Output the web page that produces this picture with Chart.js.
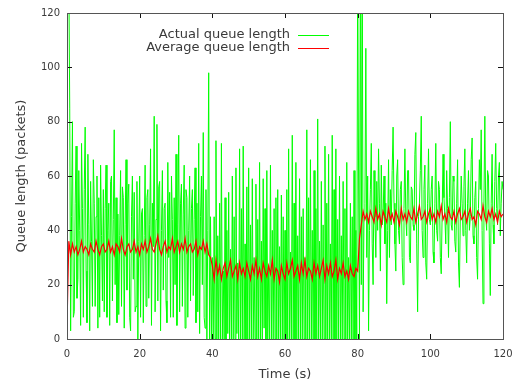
<!DOCTYPE html>
<html>
<head>
<meta charset="utf-8">
<script src="https://cdn.jsdelivr.net/npm/chart.js@4.4.0/dist/chart.umd.min.js"></script>
<style>
  html, body { margin: 0; padding: 0; background: #fff; }
  canvas { display: block; }
</style>
</head>
<body>
<canvas id="chart" width="525" height="383"></canvas>
<script>
// sample intervals of the two traces (s)
const ACTUAL_STEP = 0.25;
const AVERAGE_STEP = 0.5;

// actual queue length, one value every 0.25 s from t = 0 (one row = 10 s)
const actualQueue = [
  130, 140, 135, 85, 3, 45, 80, 8, 10, 50, 71, 15, 22, 62, 40, 5, 72, 48, 8, 55, 78, 25, 6, 68, 42, 3, 58, 36, 12, 66, 50, 12, 45, 60, 4, 52, 8, 64, 38, 14,
  55, 10, 48, 64, 8, 40, 50, 5, 58, 60, 14, 44, 77, 20, 52, 6, 46, 9, 38, 62, 12, 56, 52, 4, 42, 66, 18, 50, 57, 8, 3, 45, 60, 22, 54, 10, 12, 58, 0, 36,
  60, 8, 46, 48, 6, 38, 64, 12, 52, 55, 15, 42, 70, 5, 50, 34, 82, 10, 44, 79, 14, 56, 58, 3, 40, 62, 18, 48, 50, 14, 6, 65, 30, 54, 8, 60, 44, 8, 52, 20,
  68, 5, 42, 75, 10, 50, 57, 12, 46, 64, 4, 55, 52, 8, 40, 60, 14, 48, 55, 16, 44, 63, 6, 50, 10, 72, 2, 45, 60, 20, 76, 8, 4, 55, 0, 40, 98, 0, 45, 0,
  30, 0, 45, 0, 73, 0, 38, 0, 50, 0, 72, 0, 25, 0, 52, 0, 40, 2, 54, 0, 33, 0, 60, 0, 45, 0, 63, 2, 28, 0, 70, 0, 48, 0, 71, 0, 35, 0, 56, 0,
  63, 0, 42, 0, 59, 0, 30, 0, 57, 0, 44, 0, 65, 0, 36, 0, 59, 4, 48, 0, 62, 0, 26, 0, 64, 0, 40, 0, 48, 0, 52, 0, 55, 0, 34, 0, 53, 0, 45, 0,
  40, 0, 55, 0, 70, 0, 32, 0, 75, 0, 50, 0, 65, 0, 38, 0, 59, 0, 45, 0, 48, 0, 30, 0, 77, 0, 52, 0, 66, 0, 40, 0, 62, 0, 48, 0, 81, 0, 36, 0,
  58, 0, 42, 0, 71, 0, 50, 0, 68, 0, 35, 0, 75, 0, 55, 0, 70, 0, 44, 0, 60, 0, 38, 0, 58, 0, 48, 0, 65, 0, 30, 0, 50, 0, 45, 0, 62, 0, 40, 0,
  140, 60, 0, 150, 20, 150, 10, 45, 50, 107, 30, 60, 3, 40, 55, 72, 35, 20, 62, 45, 30, 58, 40, 70, 50, 25, 64, 42, 45, 60, 35, 50, 13, 40, 66, 30, 55, 42, 62, 78,
  50, 35, 25, 60, 66, 40, 35, 55, 58, 30, 20, 48, 70, 45, 38, 62, 62, 30, 28, 56, 55, 42, 40, 68, 76, 35, 10, 45, 50, 62, 82, 40, 30, 55, 64, 28, 22, 50, 70, 44,
  42, 55, 60, 32, 28, 50, 72, 40, 36, 58, 55, 30, 24, 46, 68, 52, 45, 35, 62, 48, 30, 52, 80, 42, 40, 60, 58, 36, 32, 50, 66, 28, 19, 45, 60, 50, 38, 56, 70, 40,
  28, 50, 62, 40, 45, 66, 74, 38, 35, 52, 58, 30, 22, 48, 66, 55, 77, 40, 13, 50, 82, 45, 40, 62, 60, 35, 16, 50, 68, 42, 35, 58, 72, 48, 42, 60, 65, 38, 50, 58,
  55
];

// average queue length, one value every 0.5 s from t = 0 (one row = 10 s)
const averageQueue = [
  5, 36, 31, 35, 32, 34, 31, 33, 36, 32, 34, 33, 31, 35, 33, 32, 36, 33, 31, 34,
  35, 32, 33, 36, 32, 34, 31, 35, 34, 32, 37, 33, 31, 34, 35, 32, 33, 36, 32, 34,
  31, 35, 33, 36, 32, 34, 37, 33, 32, 35, 38, 33, 31, 34, 36, 32, 34, 33, 37, 32,
  34, 36, 32, 35, 33, 37, 32, 34, 35, 32, 33, 36, 31, 34, 33, 36, 32, 35, 31, 30,
  27, 22, 29, 24, 27, 22, 26, 28, 23, 26, 29, 23, 25, 27, 22, 28, 24, 26, 23, 28,
  25, 22, 27, 24, 29, 23, 26, 22, 28, 25, 23, 27, 24, 29, 22, 26, 25, 21, 27, 24,
  22, 28, 24, 26, 29, 23, 25, 27, 22, 28, 24, 29, 23, 26, 25, 22, 28, 24, 27, 23,
  26, 29, 22, 27, 24, 28, 23, 25, 29, 22, 26, 24, 28, 23, 25, 22, 27, 24, 23, 26,
  25, 37, 42, 47, 44, 46, 43, 47, 45, 43, 48, 44, 46, 42, 47, 45, 43, 48, 44, 46,
  43, 47, 45, 42, 48, 44, 46, 43, 47, 45, 44, 48, 43, 46, 49, 44, 45, 47, 43, 46,
  48, 44, 46, 43, 47, 45, 49, 44, 46, 43, 48, 45, 44, 47, 43, 46, 48, 44, 45, 47,
  43, 46, 48, 44, 45, 42, 47, 46, 44, 49, 45, 43, 47, 45, 48, 44, 46, 43, 47, 45,
  46
];

const xTicks = [0, 20, 40, 60, 80, 100, 120];
const yTicks = [0, 20, 40, 60, 80, 100, 120];

const actualPoints = actualQueue.map((v, i) => ({ x: i * ACTUAL_STEP, y: v }));
const averagePoints = averageQueue.map((v, i) => ({ x: i * AVERAGE_STEP, y: v }));

const FONT = "'DejaVu Sans', sans-serif";
const TEXT = "#3a3a3a";

// gnuplot style frame: border + inward ticks on all four sides, key inside
const framePlugin = {
  id: "frame",
  afterDatasetsDraw(chart) {
    const { ctx, chartArea: a, scales } = chart;
    ctx.save();
    ctx.strokeStyle = "#111";
    ctx.lineWidth = 1;
    const len = 5;
    ctx.beginPath();
    xTicks.forEach((v) => {
      const px = Math.round(scales.x.getPixelForValue(v)) + 0.5;
      ctx.moveTo(px, a.bottom); ctx.lineTo(px, a.bottom - len);
      ctx.moveTo(px, a.top); ctx.lineTo(px, a.top + len);
    });
    yTicks.forEach((v) => {
      const py = Math.round(scales.y.getPixelForValue(v)) + 0.5;
      ctx.moveTo(a.left, py); ctx.lineTo(a.left + len, py);
      ctx.moveTo(a.right, py); ctx.lineTo(a.right - len, py);
    });
    ctx.stroke();
    ctx.strokeStyle = "#555";
    ctx.strokeRect(Math.round(a.left) + 0.5, Math.round(a.top) + 0.5,
      Math.round(a.right - a.left), Math.round(a.bottom - a.top));
    ctx.restore();
  },
  afterDraw(chart) {
    const { ctx, chartArea: a } = chart;
    const order = [1, 0];
    ctx.save();
    ctx.font = "13px " + FONT;
    ctx.textAlign = "right";
    ctx.textBaseline = "middle";
    order.forEach((di, row) => {
      const ds = chart.data.datasets[di];
      const y = a.top + 22 + row * 12.7;
      ctx.fillStyle = TEXT;
      ctx.fillText(ds.label, a.left + 223, y);
      ctx.strokeStyle = ds.borderColor;
      ctx.lineWidth = 1;
      ctx.beginPath();
      ctx.moveTo(a.left + 231, Math.round(y) + 0.5);
      ctx.lineTo(a.left + 262, Math.round(y) + 0.5);
      ctx.stroke();
    });
    ctx.restore();
  }
};

const chart = new Chart(document.getElementById("chart"), {
  type: "line",
  data: {
    datasets: [
      {
        label: "Average queue length",
        data: averagePoints,
        borderColor: "#ff0000",
        borderWidth: 1.2,
        pointRadius: 0,
        tension: 0,
        fill: false,
        order: 0,
      },
      {
        label: "Actual queue length",
        data: actualPoints,
        borderColor: "#00ff00",
        borderWidth: 1,
        pointRadius: 0,
        tension: 0,
        fill: false,
        order: 1,
      },
    ],
  },
  options: {
    responsive: false,
    devicePixelRatio: 1,
    animation: false,
    layout: { padding: { top: 12, right: 22, left: 0, bottom: 0 } },
    plugins: {
      legend: { display: false },
      tooltip: { enabled: false },
    },
    scales: {
      x: {
        type: "linear",
        min: 0,
        max: 120,
        afterFit: (s) => { s.height = 44; },
        afterBuildTicks: (s) => { s.ticks = xTicks.map((v) => ({ value: v })); },
        ticks: { color: TEXT, font: { family: FONT, size: 10 }, padding: 9, maxRotation: 0 },
        grid: { display: false, drawTicks: false },
        border: { display: false },
        title: {
          display: true,
          text: "Time (s)",
          color: TEXT,
          font: { family: FONT, size: 13 },
          padding: { top: 0, bottom: 1 },
        },
      },
      y: {
        min: 0,
        max: 120,
        afterFit: (s) => { s.width = 67; },
        afterBuildTicks: (s) => { s.ticks = yTicks.map((v) => ({ value: v })); },
        ticks: { color: TEXT, font: { family: FONT, size: 10 }, padding: 7 },
        grid: { display: false, drawTicks: false },
        border: { display: false },
        title: {
          display: true,
          text: "Queue length (packets)",
          color: TEXT,
          font: { family: FONT, size: 13 },
          padding: { top: 14, bottom: 0 },
        },
      },
    },
  },
  plugins: [framePlugin],
});
</script>
</body>
</html>
